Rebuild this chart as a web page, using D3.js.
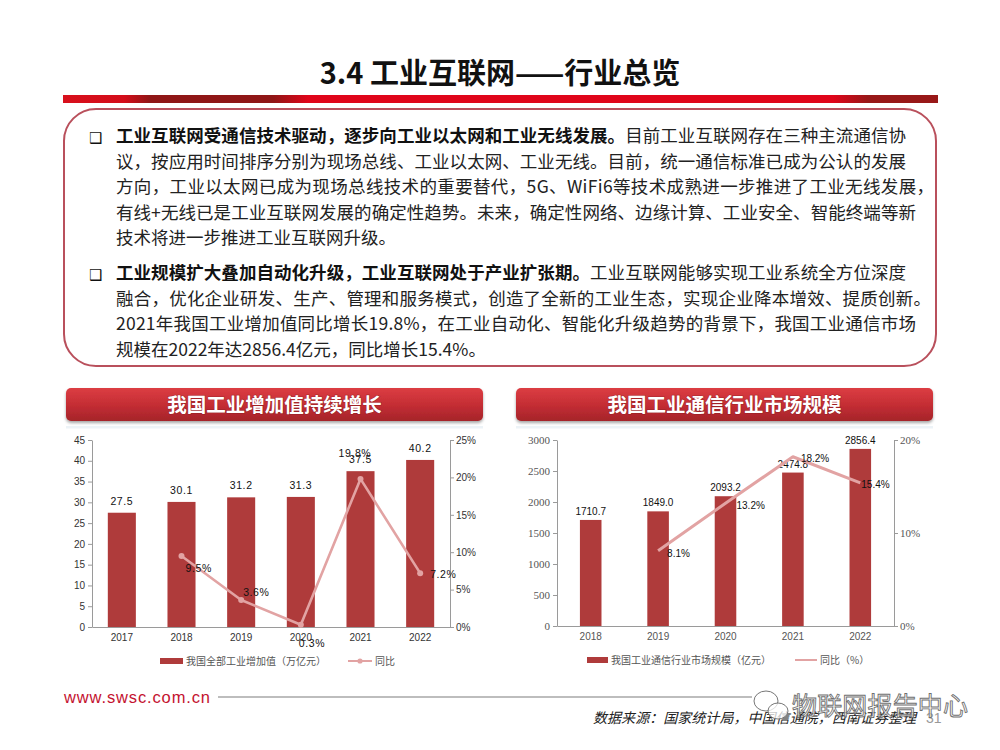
<!DOCTYPE html>
<html><head><meta charset="utf-8">
<script src="https://cdn.jsdelivr.net/npm/d3@7"></script>
<style>body{margin:0;background:#fff}svg{display:block}</style>
</head><body>
<svg id="c" width="1000" height="750"></svg>
<script>
// ---------------- data ----------------
const years1 = ['2017','2018','2019','2020','2021','2022'];
const industryValue = [27.5, 30.1, 31.2, 31.3, 37.5, 40.2];      // 万亿元
const industryYoY   = [null, 9.5, 3.6, 0.3, 19.8, 7.2];          // %
const leftTicks1  = [0,5,10,15,20,25,30,35,40,45];
const rightTicks1 = [0,5,10,15,20,25];

const years2 = ['2018','2019','2020','2021','2022'];
const commMarket = [1710.7, 1849.0, 2093.2, 2474.8, 2856.4];     // 亿元
const commYoY    = [null, 8.1, 13.2, 18.2, 15.4];                // %
const leftTicks2  = [0,500,1000,1500,2000,2500,3000];
const rightTicks2 = [0,10,20];

const titleText = '3.4 工业互联网——行业总览';
const chartTitle1 = '我国工业增加值持续增长';
const chartTitle2 = '我国工业通信行业市场规模';
const legend1 = ['我国全部工业增加值（万亿元）', '同比'];
const legend2 = ['我国工业通信行业市场规模（亿元）', '同比（%）'];
const para1 = [
  [['b','工业互联网受通信技术驱动，逐步向工业以太网和工业无线发展。'],['n','目前工业互联网存在三种主流通信协']],
  [['n','议，按应用时间排序分别为现场总线、工业以太网、工业无线。目前，统一通信标准已成为公认的发展']],
  [['n','方向，工业以太网已成为现场总线技术的重要替代，5G、WiFi6等技术成熟进一步推进了工业无线发展，']],
  [['n','有线+无线已是工业互联网发展的确定性趋势。未来，确定性网络、边缘计算、工业安全、智能终端等新']],
  [['n','技术将进一步推进工业互联网升级。']]
];
const para2 = [
  [['b','工业规模扩大叠加自动化升级，工业互联网处于产业扩张期。'],['n','工业互联网能够实现工业系统全方位深度']],
  [['n','融合，优化企业研发、生产、管理和服务模式，创造了全新的工业生态，实现企业降本增效、提质创新。']],
  [['n','2021年我国工业增加值同比增长19.8%，在工业自动化、智能化升级趋势的背景下，我国工业通信市场']],
  [['n','规模在2022年达2856.4亿元，同比增长15.4%。']]
];
const footerUrl = 'www.swsc.com.cn';
const sourceText = '数据来源：国家统计局，中国信通院，西南证券整理';
const pageNo = '31';
const watermark = '物联网报告中心';

// ---------------- drawing ----------------
const svg = d3.select('#c');
const CJK = '"Noto Sans CJK SC","Noto Sans",sans-serif';
const defs = svg.append('defs');

const g1 = defs.append('linearGradient').attr('id','hbar').attr('x1','0').attr('x2','1').attr('y1','0').attr('y2','0');
[['0%','#d8101c'],['7%','#d40d1a'],['10%','#8f1616'],['24%','#8f1616'],['28%','#e0051a'],['88%','#e0051a'],['92%','#981818'],['100%','#981818']]
  .forEach(s=>g1.append('stop').attr('offset',s[0]).attr('stop-color',s[1]));
const g2 = defs.append('linearGradient').attr('id','rib').attr('x1','0').attr('x2','0').attr('y1','0').attr('y2','1');
[['0%','#dc3d43'],['50%','#c52e34'],['100%','#a5242a']].forEach(s=>g2.append('stop').attr('offset',s[0]).attr('stop-color',s[1]));
const f = defs.append('filter').attr('id','sh').attr('x','-5%').attr('y','-20%').attr('width','110%').attr('height','160%');
f.append('feDropShadow').attr('dx',0).attr('dy',2).attr('stdDeviation',1.6).attr('flood-color','#000').attr('flood-opacity',0.35);

// title
svg.append('text').attr('x',500).attr('y',84).attr('text-anchor','middle')
  .attr('font-family',CJK).attr('font-weight',700).attr('font-size',29).attr('fill','#111')
  .text(titleText);
svg.append('rect').attr('x',63).attr('y',95).attr('width',875).attr('height',8).attr('fill','url(#hbar)');

// text box
svg.append('rect').attr('x',64).attr('y',109).attr('width',872).attr('height',257).attr('rx',32)
  .attr('fill','#fff').attr('stroke','#b9505c').attr('stroke-width',2);

function drawPara(lines, y0, targets){
  svg.append('text').attr('x',89).attr('y',y0+0.5).attr('font-family','"DejaVu Sans"').attr('font-size',15)
    .attr('font-weight',700).attr('fill','#111').text('❑');
  lines.forEach((segs,i)=>{
    const t = svg.append('text').attr('x',116).attr('y',y0+i*25.5)
      .attr('font-family',CJK).attr('font-size',17.5).attr('fill','#222');
    segs.forEach(s=>t.append('tspan').attr('font-weight',s[0]==='b'?700:400).attr('fill',s[0]==='b'?'#111':'#222').text(s[1]));
    if (targets[i]) {
      const w = t.node().getComputedTextLength();
      const n = segs.map(s=>s[1]).join('').length;
      const ls = (targets[i]-116-w)/(n-1);
      t.style('letter-spacing', ls+'px');
    }
  });
}
drawPara(para1, 142, [906,906,934,916,null]);
drawPara(para2, 279, [906,931,916,null]);

// ribbons
function ribbon(x, label){
  svg.append('rect').attr('x',x).attr('y',388).attr('width',417).attr('height',33).attr('rx',5)
    .attr('fill','url(#rib)').attr('filter','url(#sh)');
  svg.append('text').attr('x',x+208.5).attr('y',411.5).attr('text-anchor','middle')
    .attr('font-family',CJK).attr('font-weight',700).attr('font-size',19.5).attr('fill','#fff')
    .style('paint-order','stroke').attr('stroke','rgba(90,10,10,0.35)').attr('stroke-width',1.2)
    .text(label);
}
ribbon(66, chartTitle1);
ribbon(516, chartTitle2);

svg.append('rect').attr('x',66).attr('y',426).attr('width',417).attr('height',2.5).attr('fill','#edf3f7');
svg.append('rect').attr('x',516).attr('y',426).attr('width',417).attr('height',2.5).attr('fill','#edf3f7');

const BAR = '#af3b3b', LINE = '#e2a3a3';

function combo(o){
  const g = svg.append('g');
  const x = d3.scaleBand().domain(o.cats).range([o.x0,o.x1]).paddingInner(o.pad).paddingOuter(o.pad/2);
  const yL = d3.scaleLinear().domain(o.lDom).range([o.yb,o.yt]);
  const yR = d3.scaleLinear().domain(o.rDom).range([o.yb,o.yt]);
  const styleAxis = (sel, font, size, col)=>{
    sel.selectAll('path,line').attr('stroke','#9a9a9a').attr('stroke-width',1);
    sel.selectAll('text').attr('font-family',font).attr('font-size',size).attr('fill',col);
  };
  g.append('g').attr('transform',`translate(${o.x0},0)`)
    .call(d3.axisLeft(yL).tickValues(o.lTicks).tickFormat(d3.format('d')).tickSize(4).tickSizeOuter(0).tickPadding(3))
    .call(s=>styleAxis(s,o.axFont,o.axSize,o.axCol));
  g.append('g').attr('transform',`translate(${o.x1},0)`)
    .call(d3.axisRight(yR).tickValues(o.rTicks).tickFormat(d=>d+'%').tickSize(4).tickSizeOuter(0).tickPadding(2))
    .call(s=>styleAxis(s,o.axFont,o.axSize,o.axCol));
  g.append('g').attr('transform',`translate(0,${o.yb})`)
    .call(d3.axisBottom(x).tickSize(0).tickPadding(7))
    .call(s=>styleAxis(s,'"Liberation Sans",Arial',o.xSize,o.xCol));
  g.selectAll('rect.bar').data(o.vals).join('rect').attr('class','bar')
    .attr('x',(d,i)=>x(o.cats[i])).attr('width',x.bandwidth())
    .attr('y',d=>yL(d)).attr('height',d=>o.yb-yL(d)).attr('fill',BAR);
  g.selectAll('text.bl').data(o.vals).join('text').attr('class','bl')
    .attr('x',(d,i)=>x(o.cats[i])+x.bandwidth()/2).attr('y',d=>yL(d)-o.blOff)
    .attr('text-anchor','middle').attr('font-family','"Liberation Sans",Arial').attr('font-size',o.lblSize)
    .style('letter-spacing',o.lblLs+'px').attr('fill','#111').text(d=>d3.format('.1f')(d));
  const pts = o.yoy.map((v,i)=>({v,i})).filter(p=>p.v!==null);
  const px = p=>x(o.cats[p.i])+x.bandwidth()/2, py = p=>yR(p.v);
  g.append('path').datum(pts).attr('d',d3.line().x(px).y(py)).attr('fill','none')
    .attr('stroke',LINE).attr('stroke-width',o.lw).attr('stroke-linejoin','round');
  if (o.markers) g.selectAll('circle.m').data(pts).join('circle').attr('class','m')
    .attr('cx',px).attr('cy',py).attr('r',3).attr('fill',LINE);
  g.selectAll('text.pl').data(pts).join('text').attr('class','pl')
    .attr('x',(p,k)=>px(p)+o.pOff[k][0]).attr('y',(p,k)=>py(p)+o.pOff[k][1])
    .attr('font-family','"Liberation Sans",Arial').attr('font-size',o.lblSize)
    .style('letter-spacing',o.lblLs+'px').attr('fill','#111').text(p=>d3.format('.1f')(p.v)+'%');
  const L = o.leg;
  g.append('rect').attr('x',L.x).attr('y',L.y-3).attr('width',L.w).attr('height',6).attr('fill',BAR);
  g.append('text').attr('x',L.x+L.w+3).attr('y',L.y+3.5).attr('font-family',CJK).attr('font-size',10)
    .attr('fill','#555').text(o.legText[0]);
  g.append('line').attr('x1',L.lx).attr('x2',L.lx+L.lw).attr('y1',L.y).attr('y2',L.y)
    .attr('stroke',LINE).attr('stroke-width',2);
  if (o.markers) g.append('circle').attr('cx',L.lx+L.lw/2).attr('cy',L.y).attr('r',2.6).attr('fill',LINE);
  g.append('text').attr('x',L.lx+L.lw+3).attr('y',L.y+3.5).attr('font-family',CJK).attr('font-size',10)
    .attr('fill','#555').text(o.legText[1]);
}

combo({cats:years1, vals:industryValue, yoy:industryYoY, x0:92, x1:450, yb:627, yt:440, pad:0.53,
  lDom:[0,45], rDom:[0,25], lTicks:leftTicks1, rTicks:rightTicks1,
  axFont:'"Liberation Sans",Arial', axSize:10, axCol:'#333', xSize:10, xCol:'#333',
  lblSize:10.5, lblLs:0.6, blOff:8, lw:2.6, markers:true,
  pOff:[[4,16],[2,-4],[-2,22],[-22,-22],[10,5]],
  leg:{x:160,y:661,w:23,lx:348,lw:24}, legText:legend1});

combo({cats:years2, vals:commMarket, yoy:commYoY, x0:557, x1:894, yb:626, yt:440, pad:0.68,
  lDom:[0,3000], rDom:[0,20], lTicks:leftTicks2, rTicks:rightTicks2,
  axFont:'"Liberation Serif",serif', axSize:11, axCol:'#555', xSize:10, xCol:'#555',
  lblSize:10, lblLs:0, blOff:5, lw:3, markers:false,
  pOff:[[9,6],[11,6],[8,5],[1,5]],
  leg:{x:587,y:660,w:21,lx:795,lw:22}, legText:legend2});

// footer
svg.append('text').attr('x',64).attr('y',703).attr('font-family','"Liberation Sans",Arial').attr('font-size',16.5)
  .attr('fill','#c4122f').attr('textLength',146).text(footerUrl);
svg.append('line').attr('x1',218).attr('x2',752).attr('y1',697).attr('y2',697).attr('stroke','#bdbdbd').attr('stroke-width',2);
svg.append('text').attr('x',593).attr('y',723).attr('font-family',CJK).attr('font-size',14)
  .attr('font-style','italic').attr('fill','#222').attr('textLength',323).text(sourceText);
svg.append('text').attr('x',926).attr('y',723).attr('font-family','"Liberation Sans",Arial').attr('font-size',14)
  .attr('fill','#999').text(pageNo);
const wm = svg.append('g').attr('fill','rgba(255,255,255,0.75)').attr('stroke','#777').attr('stroke-width',1);
wm.append('ellipse').attr('cx',766).attr('cy',701).attr('rx',12).attr('ry',10);
wm.append('ellipse').attr('cx',778).attr('cy',711).attr('rx',10).attr('ry',8);
svg.append('text').attr('x',792).attr('y',715).attr('font-family',CJK).attr('font-size',25)
  .attr('fill','rgba(255,255,255,0.7)').attr('stroke','#6f6f6f').attr('stroke-width',0.9)
  .attr('textLength',176).text(watermark);
</script>
</body></html>
